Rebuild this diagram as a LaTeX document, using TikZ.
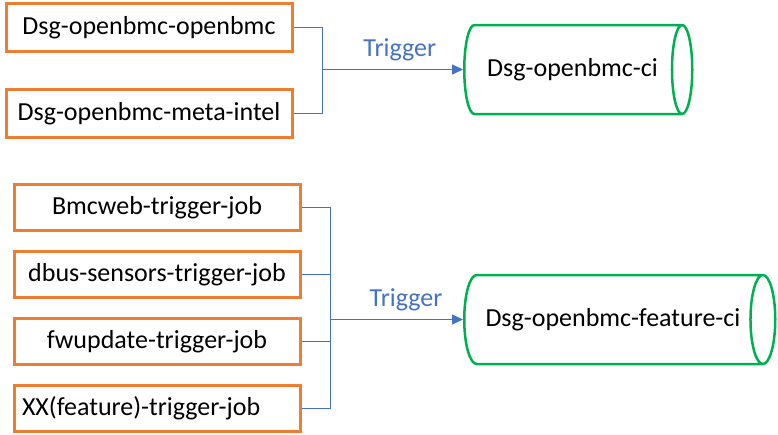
\documentclass[tikz,border=0pt]{standalone}
\usepackage{fontspec}
\setmainfont{Carlito}
\usetikzlibrary{arrows.meta, positioning, shapes.geometric}
\definecolor{boxorange}{HTML}{ED7D31}
\definecolor{linkblue}{HTML}{4472C4}
\definecolor{cigreen}{HTML}{00B050}

\begin{document}
\begin{tikzpicture}[
  x=1pt, y=-1pt,
  font=\fontsize{26}{30}\selectfont,
  jobbox/.style = {draw=boxorange, line width=3pt, minimum width=286pt, minimum height=46pt, inner sep=0pt, align=center},
  cibox/.style = {draw=cigreen, line width=2.5pt, cylinder, minimum width=89pt, inner sep=0pt, anchor=west},
  link/.style = {draw=linkblue, line width=1.6pt},
  arrow/.style = {link, -{Triangle[length=11pt,width=10pt]}},
  node distance=35pt and 30pt
]
  \useasboundingbox (0,0) rectangle (778,434);

  % Main CI triggers
  \node[jobbox, minimum height=48pt] (openbmc) at (149,27.5) {Dsg-openbmc-openbmc};
  \node[jobbox, minimum height=48pt, below=of openbmc] (metaintel) {Dsg-openbmc-meta-intel};
  \node[cibox, aspect=0.9, minimum height=228pt] (ci) at (463,69.5) {Dsg-openbmc-ci};

  \draw[link] (openbmc.east) -- ++(29,0) coordinate (jmain) |- (metaintel.east);
  \draw[arrow] (jmain |- ci.west) -- (ci.west) node[pos=0.55,above=4pt,linkblue] {Trigger};

  % Feature CI triggers
  \node[jobbox] (bmcweb) at (157,207.5) {Bmcweb-trigger-job};
  \node[jobbox, below=18pt of bmcweb] (dbus) {dbus-sensors-trigger-job};
  \node[jobbox, below=18pt of dbus] (fwupdate) {fwupdate-trigger-job};
  \node[jobbox, below=18pt of fwupdate, text width=270pt, align=left] (xxjob) {XX(feature)-trigger-job};
  \node[cibox, aspect=1.1, minimum height=311pt] (featureci) at (463,319.5) {Dsg-openbmc-feature-ci};

  \draw[link] (bmcweb.east) -- ++(29,0) coordinate (jfeat) |- (xxjob.east);
  \draw[link] (dbus.east) -- (jfeat |- dbus.east);
  \draw[link] (fwupdate.east) -- (jfeat |- fwupdate.east);
  \draw[arrow] (jfeat |- featureci.west) -- (featureci.west) node[pos=0.57,above=4pt,linkblue] {Trigger};

\end{tikzpicture}
\end{document}
